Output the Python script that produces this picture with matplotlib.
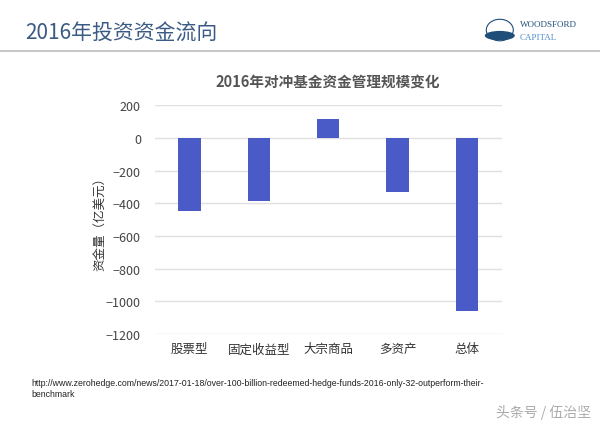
import matplotlib
matplotlib.use("Agg")
import matplotlib.pyplot as plt
from matplotlib.lines import Line2D
from matplotlib.patches import Ellipse

plt.rcParams['font.family'] = ['Noto Sans CJK SC', 'DejaVu Sans']

categories = ['股票型', '固定收益型', '大宗商品', '多资产', '总体']
flows = [-448, -385, 116, -330, -1058]
yticks = [200, 0, -200, -400, -600, -800, -1000, -1200]

fig = plt.figure(figsize=(6, 4.31), dpi=100)

# page header
fig.text(0.042, 0.922, '2016年投资资金流向', fontsize=15, color='#3b5b85', va='center')
fig.add_artist(Line2D([0, 1], [0.879, 0.879], color='#c8c8c8', lw=1.5))
# rough logo: shell + name
fig.add_artist(Ellipse((0.833, 0.928), 0.045, 0.05, facecolor='none', edgecolor='#1f4e79', lw=0.8))
fig.add_artist(Ellipse((0.833, 0.915), 0.05, 0.022, facecolor='#1f4e79', edgecolor='none'))
fig.text(0.866, 0.942, 'WOODSFORD', fontsize=6.5, color='#1f4e79', family='Liberation Serif', va='center')
fig.text(0.866, 0.911, 'CAPITAL', fontsize=6.5, color='#4f8cc9', family='Liberation Serif', va='center')

ax = fig.add_axes([0.258, 0.2227, 0.578, 0.531])
x = range(len(categories))
ax.bar(x, flows, width=0.32, color='#4a5bc8', zorder=3)
ax.set_xlim(-0.5, len(categories) - 0.5)
ax.set_ylim(-1200, 200)
ax.set_yticks(yticks)
ax.set_yticklabels([str(v).replace('-', '\u2212') for v in yticks], fontsize=9, color='#444444')
ax.set_xticks(list(x))
ax.set_xticklabels(categories, fontsize=9, color='#333333')
ax.grid(axis='y', color='#e0e0e0', lw=1, zorder=0)
for s in ax.spines.values():
    s.set_visible(False)
ax.tick_params(length=0, pad=6)
ax.tick_params(axis='y', pad=10)
ax.set_ylabel('资金量（亿美元）', fontsize=9, color='#333333', labelpad=0)
ax.set_title('2016年对冲基金资金管理规模变化', fontsize=10.5, fontweight='bold', color='#555555', pad=14)

fig.text(0.053, 0.098, 'http://www.zerohedge.com/news/2017-01-18/over-100-billion-redeemed-hedge-funds-2016-only-32-outperform-their-\nbenchmark',
         fontsize=6.3, color='#222222', family='Liberation Sans', va='center', linespacing=1.3)
fig.text(0.985, 0.044, '头条号 / 伍治坚', fontsize=10, color='#aaaaaa', ha='right', va='center')

fig.savefig('out.png', dpi=100)
